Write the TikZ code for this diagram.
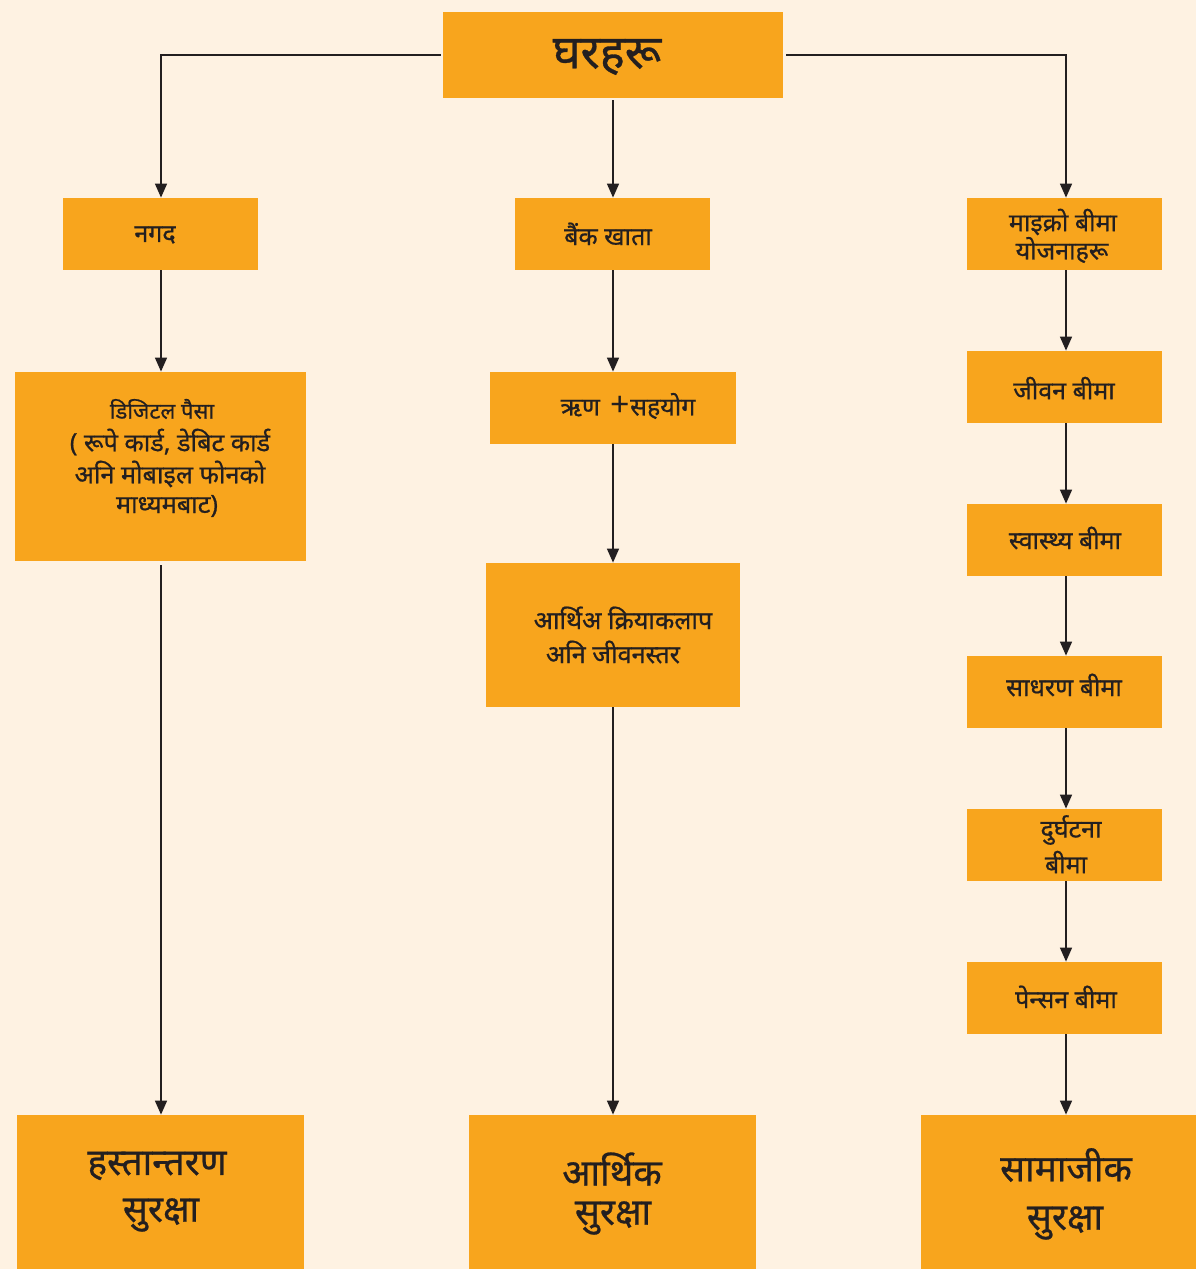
\documentclass[tikz,border=0pt]{standalone}
\usepackage{fontspec}
\newfontfamily\dev[Script=Devanagari,FakeBold=0.7]{Noto Sans}
\newfontfamily\plainsans{Noto Sans}
\usetikzlibrary{fit,arrows.meta}
\definecolor{bgc}{HTML}{FEF2E2}
\definecolor{boxc}{HTML}{F8A51D}
\definecolor{ink}{HTML}{231F20}
\tikzset{
  box/.style={fill=boxc, draw=none, inner sep=0pt},
  lbl/.style={text=ink, font=\dev\fontsize{12.5pt}{15pt}\selectfont, inner sep=0pt},
  midlbl/.style={text=ink, font=\dev\fontsize{12.6pt}{15pt}\selectfont, inner sep=0pt},
  biglbl/.style={text=ink, font=\dev\fontsize{18.5pt}{22pt}\selectfont, inner sep=0pt},
  conn/.style={draw=ink, line width=0.75pt, -{Triangle[length=7pt,width=6pt]}},
}
\begin{document}
\begin{tikzpicture}[x=0.5pt,y=-0.5pt]
\fill[bgc] (0,0) rectangle (1196,1269);
\useasboundingbox (0,0) rectangle (1196,1269);
% boxes
\node[box, fit={(443,12)(783,98)}] (top) {};
\node[box, fit={(63,198)(258,270)}] (nagad) {};
\node[box, fit={(515,198)(710,270)}] (bank) {};
\node[box, fit={(967,198)(1162,270)}] (micro) {};
\node[box, fit={(15,372)(306,561)}] (digital) {};
\node[box, fit={(490,372)(736,444)}] (rin) {};
\node[box, fit={(486,563)(740,707)}] (arthi) {};
\node[box, fit={(967,351)(1162,423)}] (jeevan) {};
\node[box, fit={(967,504)(1162,576)}] (swasthya) {};
\node[box, fit={(967,656)(1162,728)}] (sadharan) {};
\node[box, fit={(967,809)(1162,881)}] (durghatana) {};
\node[box, fit={(967,962)(1162,1034)}] (pension) {};
\node[box, fit={(17,1115)(304,1269)}] (hastantaran) {};
\node[box, fit={(469,1115)(756,1269)}] (arthik) {};
\node[box, fit={(921,1115)(1196,1269)}] (samajik) {};
% column coordinates
\coordinate (colL) at (161,0);
\coordinate (colM) at (613,0);
\coordinate (colR) at (1066,0);
% labels
\node[text=ink, inner sep=0pt, font=\dev\fontsize{23.5pt}{28pt}\selectfont] (tl) at (607,57) {घरहरू};
\node[lbl] (t1) at (155,235) {नगद};
\node[lbl] (t2) at (608,234) {बैंक खाता};
\node[lbl] (t3a) at (1063,222) {माइक्रो बीमा};
\node[lbl] (t3b) at (1062,250) {योजनाहरू};
\node[lbl, font=\dev\fontsize{11pt}{13pt}\selectfont] (t4a) at (162,409) {डिजिटल पैसा};
\node[midlbl] (t4b) at (170,442) {( रूपे कार्ड, डेबिट कार्ड};
\node[midlbl] (t4c) at (170,474) {अनि मोबाइल फोनको};
\node[midlbl] (t4d) at (167,506) {माध्यमबाट)};
\node[lbl] (t5) at (628,406) {ऋण \,{\plainsans\fontsize{17pt}{17pt}\selectfont\raisebox{-0.5pt}{+}}सहयोग};
\node[midlbl] (t6a) at (623,618) {आर्थिअ क्रियाकलाप};
\node[midlbl] (t6b) at (613,652) {अनि जीवनस्तर};
\node[lbl] (t7) at (1064,388) {जीवन बीमा};
\node[lbl] (t8) at (1065,538) {स्वास्थ्य बीमा};
\node[lbl] (t9) at (1064,685) {साधरण बीमा};
\node[lbl] (t10a) at (1071,830) {दुर्घटना};
\node[lbl] (t10b) at (1066,862) {बीमा};
\node[lbl] (t11) at (1066,997) {पेन्सन बीमा};
\node[biglbl] (t12a) at (157,1166) {हस्तान्तरण};
\node[biglbl] (t12b) at (161,1215) {सुरक्षा};
\node[biglbl] (t13a) at (612,1169) {आर्थिक};
\node[biglbl] (t13b) at (613,1218) {सुरक्षा};
\node[biglbl] (t14a) at (1066,1165) {सामाजीक};
\node[biglbl] (t14b) at (1065,1223) {सुरक्षा};
% connectors
\draw[conn] ([xshift=-1pt]top.west) -| (colL |- nagad.north);
\draw[conn] ([xshift=1.5pt]top.east) -| (colR |- micro.north);
\draw[conn] (colM |- top.south) ++(0,2) -- (colM |- bank.north);
\draw[conn] (colL |- nagad.south) -- (colL |- digital.north);
\draw[conn] (colL |- digital.south) ++(0,4) -- (colL |- hastantaran.north);
\draw[conn] (colM |- bank.south) -- (colM |- rin.north);
\draw[conn] (colM |- rin.south) -- (colM |- arthi.north);
\draw[conn] (colM |- arthi.south) -- (colM |- arthik.north);
\draw[conn] (colR |- micro.south) -- (colR |- jeevan.north);
\draw[conn] (colR |- jeevan.south) -- (colR |- swasthya.north);
\draw[conn] (colR |- swasthya.south) -- (colR |- sadharan.north);
\draw[conn] (colR |- sadharan.south) -- (colR |- durghatana.north);
\draw[conn] (colR |- durghatana.south) -- (colR |- pension.north);
\draw[conn] (colR |- pension.south) -- (colR |- samajik.north);
\end{tikzpicture}
\end{document}
